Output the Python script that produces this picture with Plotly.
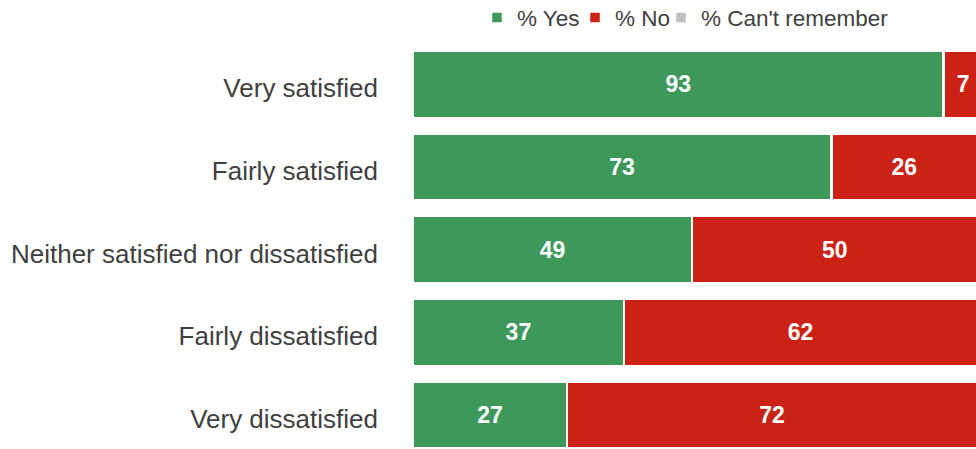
import plotly.graph_objects as go

categories = ["Very satisfied", "Fairly satisfied", "Neither satisfied nor dissatisfied",
              "Fairly dissatisfied", "Very dissatisfied"]
yes_vals = [93.1, 73.4, 49.0, 37.0, 27.0]
no_vals = [6.9, 25.6, 50.0, 62.0, 72.0]
cant_vals = [0.0, 1.0, 1.0, 1.0, 1.0]
yes_labels = ["93", "73", "49", "37", "27"]
no_labels = ["7", "26", "50", "62", "72"]

series = [
    ("% Yes", yes_vals, yes_labels, "#3D9959", "legend"),
    ("% No", no_vals, no_labels, "#CC2216", "legend"),
    ("% Can't remember", cant_vals, None, "#BFBFBF", "legend2"),
]

FONT = "Liberation Sans, Arial, sans-serif"

fig = go.Figure()
for name, vals, labels, color, leg in series:
    fig.add_trace(go.Bar(
        y=categories, x=vals, name=name, orientation="h",
        marker=dict(color=color, line=dict(color="white", width=2.5)),
        text=labels,
        texttemplate="%{text}" if labels else "",
        textposition="inside" if labels else "none",
        insidetextanchor="middle",
        textfont=dict(color="white", size=23, family=FONT, weight="bold"),
        constraintext="none",
        hoverinfo="skip",
        legend=leg,
    ))

legend_common = dict(orientation="h", xanchor="left", xref="paper",
                     yref="container", y=0.96, yanchor="middle",
                     font=dict(size=22.5, color="#404040", family=FONT),
                     traceorder="normal", itemwidth=30, bgcolor="rgba(0,0,0,0)")

fig.update_layout(
    barmode="stack",
    bargap=0.185,
    width=976, height=449,
    margin=dict(l=413, r=0, t=43, b=0, autoexpand=False),
    paper_bgcolor="white", plot_bgcolor="white",
    font=dict(family=FONT, size=22, color="#404040"),
    showlegend=True,
    legend=dict(x=0.1137, entrywidth=53, entrywidthmode="pixels", **legend_common),
    legend2=dict(x=0.4405, **legend_common),
)
fig.update_xaxes(range=[0, 98.8], visible=False)
fig.update_yaxes(categoryorder="array", categoryarray=categories,
                 range=[4.411, -0.5], showgrid=False, showline=False,
                 ticks="", ticklabelstandoff=34, ticklabelshift=-4,
                 tickfont=dict(size=26, color="#404040", family=FONT))

fig.write_html("out.html", config={"displayModeBar": False},
               post_script="document.body.style.margin='0';document.body.style.overflow='hidden';")
